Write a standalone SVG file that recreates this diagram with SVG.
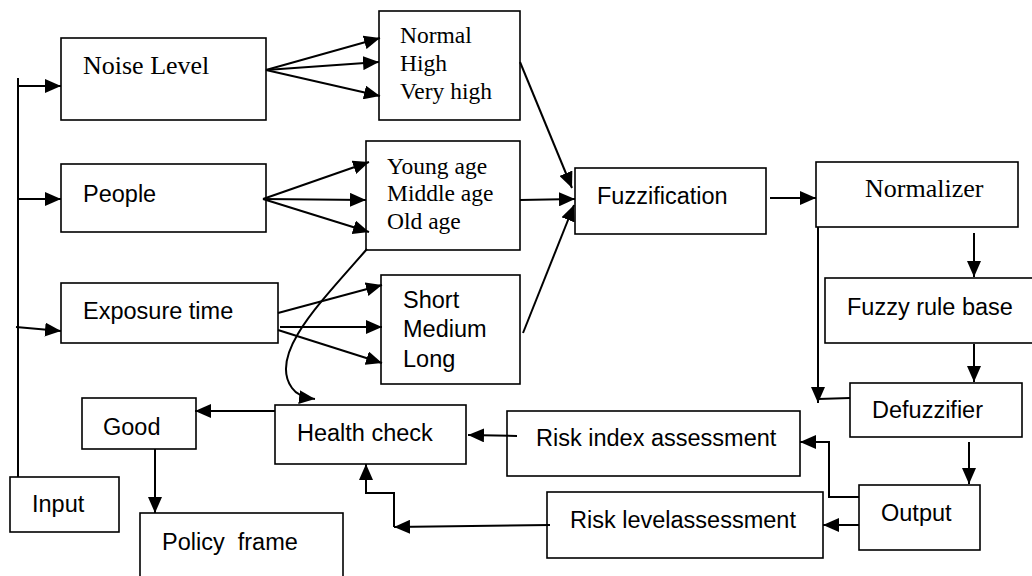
<svg xmlns="http://www.w3.org/2000/svg" width="1032" height="576" viewBox="0 0 1032 576">
<defs>
<style>
.box{fill:#fff;stroke:#000;stroke-width:1.6}
.serif{font-family:"Liberation Serif","Times New Roman",serif;fill:#000}
.sans{font-family:"Liberation Sans",Arial,sans-serif;font-size:23.5px;fill:#000}
.big{font-size:26px}
.small{font-size:23.5px}
.ln{fill:none;stroke:#000;stroke-width:2}
.arr{fill:none;stroke:#000;stroke-width:2;marker-end:url(#ah)}
</style>
<marker id="ah" markerUnits="userSpaceOnUse" markerWidth="16" markerHeight="14" viewBox="0 0 16 14" refX="16" refY="7" orient="auto">
<path d="M0,0 L16,7 L0,14 z" fill="#000"/>
</marker>
</defs>
<rect width="1032" height="576" fill="#fff"/>

<g id="noise-level"><rect class="box" x="61" y="38" width="205" height="82"/><text class="serif big" x="83" y="74">Noise Level</text></g>
<g id="noise-classes"><rect class="box" x="379" y="11" width="141" height="109"/>
<text class="serif small" x="400" y="43">Normal</text><text class="serif small" x="400" y="71">High</text><text class="serif small" x="400" y="99">Very high</text></g>
<g id="people"><rect class="box" x="61" y="164" width="205" height="68"/><text class="sans" x="83" y="202">People</text></g>
<g id="age-classes"><rect class="box" x="366" y="141" width="154" height="109"/>
<text class="serif small" x="387" y="174">Young age</text><text class="serif small" x="387" y="201">Middle age</text><text class="serif small" x="387" y="229">Old age</text></g>
<g id="exposure-time"><rect class="box" x="61" y="283" width="217" height="60"/><text class="sans" x="83" y="319">Exposure time</text></g>
<g id="time-classes"><rect class="box" x="381" y="275" width="139" height="109"/>
<text class="sans" x="403" y="308">Short</text><text class="sans" x="403" y="337">Medium</text><text class="sans" x="403" y="367">Long</text></g>
<g id="fuzzification"><rect class="box" x="575" y="168" width="191" height="66"/><text class="sans" x="597" y="204">Fuzzification</text></g>
<g id="normalizer"><rect class="box" x="816" y="162" width="202" height="65"/><text class="serif big" x="865" y="197">Normalizer</text></g>
<g id="fuzzy-rule-base"><rect class="box" x="825" y="278" width="220" height="65"/><text class="sans" x="847" y="315">Fuzzy rule base</text></g>
<g id="defuzzifier"><rect class="box" x="850" y="383" width="172" height="54"/><text class="sans" x="872" y="418">Defuzzifier</text></g>
<g id="output"><rect class="box" x="859" y="485" width="121" height="65"/><text class="sans" x="881" y="521">Output</text></g>
<g id="risk-index"><rect class="box" x="507" y="411" width="293" height="65"/><text class="sans" x="536" y="446">Risk index assessment</text></g>
<g id="risk-level"><rect class="box" x="547" y="492" width="276" height="66"/><text class="sans" x="570" y="528">Risk levelassessment</text></g>
<g id="health-check"><rect class="box" x="275" y="405" width="191" height="59"/><text class="sans" x="297" y="441">Health check</text></g>
<g id="good"><rect class="box" x="82" y="398" width="114" height="51"/><text class="sans" x="103" y="435">Good</text></g>
<g id="input"><rect class="box" x="10" y="477" width="109" height="55"/><text class="sans" x="32" y="512">Input</text></g>
<g id="policy-frame"><rect class="box" x="140" y="513" width="203" height="80"/><text class="sans" x="162" y="550" style="white-space:pre">Policy  frame</text></g>

<g id="connectors">
<path class="ln" d="M18,78 V477"/>
<path class="arr" d="M18,86 H61"/>
<path class="arr" d="M18,199 H61"/>
<path class="arr" d="M16,327 L61,331"/>
<path class="arr" d="M266,70 L380,38"/>
<path class="arr" d="M266,70 L379,62"/>
<path class="arr" d="M266,70 L380,96"/>
<path class="arr" d="M263,199 L369,162"/>
<path class="arr" d="M263,199 L366,200"/>
<path class="arr" d="M263,199 L369,232"/>
<path class="arr" d="M278,313 L382,285"/>
<path class="arr" d="M280,327 L382,327"/>
<path class="arr" d="M278,330 L382,363"/>
<path class="arr" d="M520,62 L572,188"/>
<path class="arr" d="M520,200 L575,199"/>
<path class="arr" d="M523,333 L574,205"/>
<path class="arr" d="M770,198 H816"/>
<path class="arr" d="M974,233 V277"/>
<path class="arr" d="M974,344 V382"/>
<path class="arr" d="M969,442 V484"/>
<path class="arr" d="M818,227 V403"/>
<path class="ln" d="M818,399 L850,398"/>
<path class="arr" d="M859,497 H829 V442 H800"/>
<path class="arr" d="M859,525 H823"/>
<path class="arr" d="M517,436 L468,435"/>
<path class="arr" d="M550,525 L394,527"/>
<path class="arr" d="M394,527 V493 H366 V464"/>
<path class="arr" d="M275,411 H195"/>
<path class="arr" d="M155,449 V513"/>
<path class="arr" d="M367,249 C318,305 268,355 292,388 Q298,397 315,399"/>
</g>
</svg>
